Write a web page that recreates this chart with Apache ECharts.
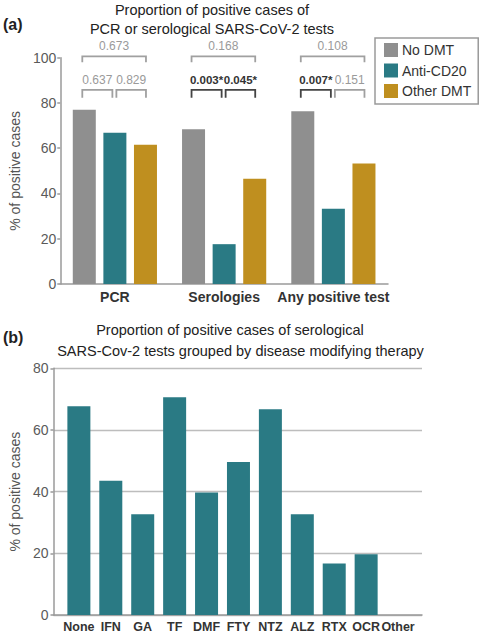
<!DOCTYPE html>
<html>
<head>
<meta charset="utf-8">
<script src="https://cdn.jsdelivr.net/npm/echarts@6/dist/echarts.min.js"></script>
<style>
  html, body { margin: 0; padding: 0; background: #fff; }
  #chart { width: 480px; height: 633px; }
</style>
</head>
<body>
<div id="chart"></div>
<script>
// panel (a)
const groupCats = ['PCR', 'Serologies', 'Any positive test'];
const noDmt = [77.0, 68.4, 76.3];
const antiCd20 = [66.8, 17.6, 33.2];
const otherDmt = [61.5, 46.5, 53.2];

// p-value brackets: category, from bar, to bar, label
const pCat = [0, 0, 0, 1, 1, 1, 2, 2, 2];
const pFrom = [0, 0, 1, 0, 0, 1, 0, 0, 1];
const pTo = [2, 1, 2, 2, 1, 2, 2, 1, 2];
const pText = ['0.673', '0.637', '0.829', '0.168', '0.003*', '0.045*', '0.108', '0.007*', '0.151'];
const pSig = [false, false, false, false, true, true, false, true, false];

// panel (b)
const dmtCats = ['None', 'IFN', 'GA', 'TF', 'DMF', 'FTY', 'NTZ', 'ALZ', 'RTX', 'OCR', 'Other'];
const dmtPos = [67.7, 43.5, 32.7, 70.6, 39.7, 49.6, 66.7, 32.7, 16.7, 19.7, 0];

const FONT = '"Liberation Sans", Arial, sans-serif';
const GRAY = '#8f8f8f', TEAL = '#2a7a84', GOLD = '#bf8f1f';
const AXIS = '#9a9a9a';
const BAR_W = 23;

const chart = echarts.init(document.getElementById('chart'), null, {renderer: 'svg'});

const bracketData = pCat.map((c, i) => [c, pFrom[i], pTo[i], pTo[i] - pFrom[i] === 2 ? 100.6 : 85.8]);

function renderBracket(params, api) {
  const i = params.dataIndex;
  const from = api.value(1), to = api.value(2);
  const p = api.coord([api.value(0), api.value(3)]);
  const step = BAR_W * 1.33;
  const x1 = p[0] + (from - 1) * step - 2 + (from === 1 ? 3.5 : 0);
  const x2 = p[0] + (to - 1) * step + (to === 1 ? -2.5 : 0.5);
  const leg = to - from === 2 ? 6 : 8;
  const col = pSig[i] ? '#444' : '#a0a0a0';
  return {
    type: 'group',
    children: [
      {
        type: 'polyline',
        shape: {points: [[x1, p[1] + leg], [x1, p[1]], [x2, p[1]], [x2, p[1] + leg]]},
        style: {stroke: col, lineWidth: 1.8, fill: null}
      },
      {
        type: 'text',
        style: {
          x: (x1 + x2) / 2, y: p[1] - 10,
          text: pText[i],
          fill: pSig[i] ? '#333' : '#9a9a9a',
          font: (pSig[i] ? 'bold 11.5px ' : '12px ') + FONT,
          textAlign: 'center', textVerticalAlign: 'middle'
        }
      }
    ]
  };
}

const tickLabel = {color: '#5a5a5a', fontSize: 14, fontFamily: FONT};

chart.setOption({
  animation: false,
  textStyle: {fontFamily: FONT},
  title: [
    {text: 'Proportion of positive cases of\nPCR or serological SARS-CoV-2 tests', left: 212, top: 0, padding: 0, textAlign: 'center',
     textStyle: {fontSize: 14.5, fontWeight: 'normal', color: '#222', lineHeight: 19, fontFamily: FONT}},
    {text: '(a)', left: 3, top: 16, padding: 0, textStyle: {fontSize: 16, fontWeight: 'bold', color: '#222', fontFamily: FONT}},
    {text: 'Proportion of positive cases of serological', left: 230, top: 322, padding: 0, textAlign: 'center',
     textStyle: {fontSize: 14.5, fontWeight: 'normal', color: '#222', fontFamily: FONT}},
    {text: 'SARS-Cov-2 tests grouped by disease modifying therapy', left: 240.5, top: 343, padding: 0, textAlign: 'center',
     textStyle: {fontSize: 14.5, fontWeight: 'normal', color: '#222', fontFamily: FONT}},
    {text: '(b)', left: 3, top: 329, padding: 0, textStyle: {fontSize: 16, fontWeight: 'bold', color: '#222', fontFamily: FONT}}
  ],
  legend: {
    data: ['No DMT', 'Anti-CD20', 'Other DMT'],
    orient: 'vertical',
    left: 375, top: 38,
    padding: [5, 7, 6, 9],
    itemWidth: 14, itemHeight: 14, itemGap: 6.5,
    icon: 'rect',
    borderColor: '#9a9a9a', borderWidth: 1.5,
    textStyle: {fontSize: 14, color: '#333', fontFamily: FONT, padding: [0, 0, 0, -1]}
  },
  grid: [
    {left: 46, top: 57.7, width: 342, height: 226.3},
    {left: 49, top: 368.3, width: 373, height: 248}
  ],
  xAxis: [
    {
      type: 'category', gridIndex: 0, data: groupCats,
      axisLine: {lineStyle: {color: AXIS, width: 1.5}},
      axisTick: {show: false},
      axisLabel: {interval: 0, color: '#333', fontWeight: 'bold', fontSize: 14, margin: 6, fontFamily: FONT}
    },
    {
      type: 'value', gridIndex: 1, min: -0.796, max: 10.75,
      splitLine: {show: false},
      axisLine: {show: true, onZero: false, lineStyle: {color: AXIS, width: 1.5}},
      axisTick: {show: false},
      axisLabel: {
        customValues: dmtCats.map((c, i) => i),
        formatter: v => dmtCats[v],
        color: '#333', fontWeight: 'bold', fontSize: 12.5, margin: 5, fontFamily: FONT
      }
    }
  ],
  yAxis: [
    {
      type: 'value', gridIndex: 0, min: 0, max: 100, interval: 20,
      name: '% of positive cases', nameLocation: 'middle', nameGap: 33,
      nameTextStyle: {color: '#555', fontSize: 14, fontFamily: FONT},
      splitLine: {show: false},
      axisLine: {show: true, lineStyle: {color: AXIS, width: 1.5}},
      axisTick: {show: true, length: 3, lineStyle: {color: AXIS, width: 1.5}},
      axisLabel: Object.assign({margin: 4}, tickLabel)
    },
    {
      type: 'value', gridIndex: 1, min: 0, max: 80, interval: 20,
      name: '% of positive cases', nameLocation: 'middle', nameGap: 30,
      nameTextStyle: {color: '#555', fontSize: 14, fontFamily: FONT},
      splitLine: {show: true, lineStyle: {color: '#bdbdbd', width: 1.3}},
      axisLine: {show: true, onZero: false, lineStyle: {color: AXIS, width: 1.5}},
      axisTick: {show: true, length: 3, lineStyle: {color: AXIS, width: 1.5}},
      axisLabel: Object.assign({margin: 5}, tickLabel)
    }
  ],
  series: [
    {name: 'No DMT', type: 'bar', xAxisIndex: 0, yAxisIndex: 0, data: noDmt,
     barWidth: BAR_W, barGap: '33%', itemStyle: {color: GRAY}},
    {name: 'Anti-CD20', type: 'bar', xAxisIndex: 0, yAxisIndex: 0, data: antiCd20,
     barWidth: BAR_W, barGap: '33%', itemStyle: {color: TEAL}},
    {name: 'Other DMT', type: 'bar', xAxisIndex: 0, yAxisIndex: 0, data: otherDmt,
     barWidth: BAR_W, barGap: '33%', itemStyle: {color: GOLD}},
    {name: 'p-values', type: 'custom', xAxisIndex: 0, yAxisIndex: 0, clip: false,
     data: bracketData, renderItem: renderBracket, silent: true, z: 5},
    {name: 'By DMT', type: 'bar', xAxisIndex: 1, yAxisIndex: 1,
     data: dmtPos.map((v, i) => [i, v]),
     barWidth: 23, itemStyle: {color: TEAL}}
  ]
});
</script>
</body>
</html>
